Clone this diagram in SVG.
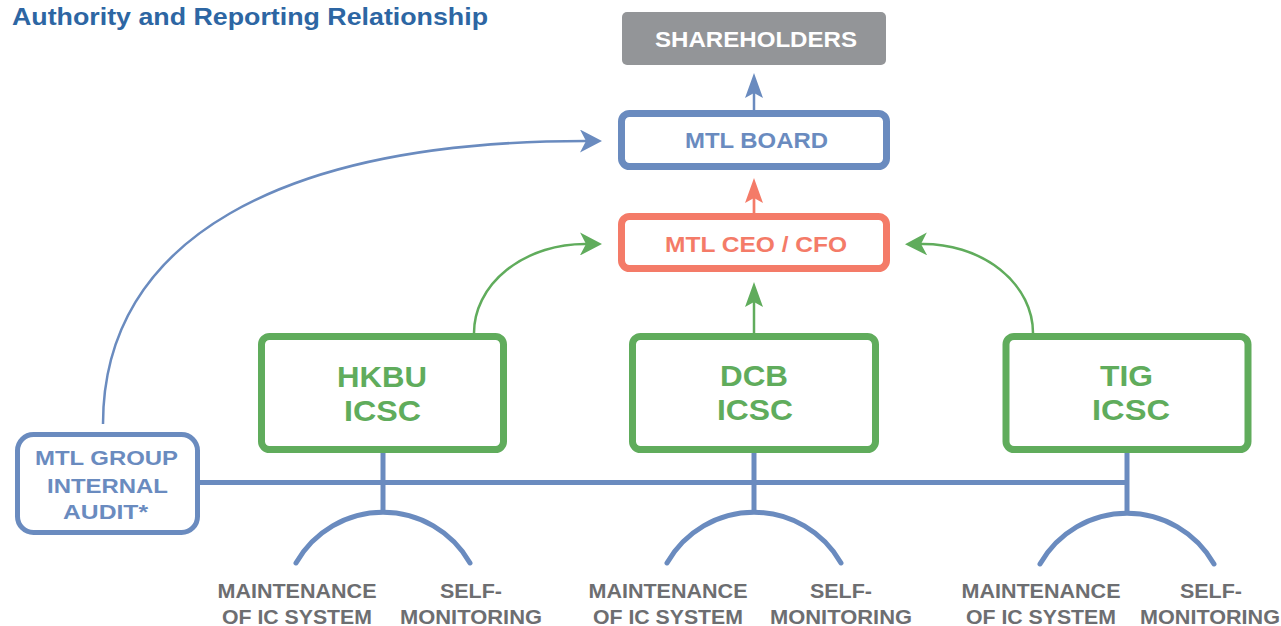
<svg xmlns="http://www.w3.org/2000/svg" width="1281" height="626" viewBox="0 0 1281 626">
<style>
text{font-family:"Liberation Sans",Arial,sans-serif;font-weight:bold;text-anchor:middle}
.title{fill:#2d66a3;font-size:24.5px;text-anchor:start}
.blue{fill:#6a8bbf}
.green{fill:#60ac5c}
.salmon{fill:#f47b68}
.lbl{fill:#6d6e71;font-size:19.5px}
.bx{fill:#fff}
.bb{stroke:#6a8bbf;stroke-width:7}
.gb{stroke:#60ac5c;stroke-width:7}
.sb{stroke:#f47b68;stroke-width:7}
.ln{fill:none;stroke:#6a8bbf;stroke-width:5;stroke-linecap:butt}
.arc{fill:none;stroke:#6a8bbf;stroke-width:5;stroke-linecap:round}
.cb{fill:none;stroke:#6a8bbf;stroke-width:2.5}
.cg{fill:none;stroke:#60ac5c;stroke-width:2.5}
.cs{fill:none;stroke:#f47b68;stroke-width:2.7}
</style>
<defs>
<marker id="sBlue" markerUnits="userSpaceOnUse" viewBox="0 0 25 18" markerWidth="25" markerHeight="18" refX="5" refY="9" orient="auto"><path d="M0,0 L25,9 L0,18 L5,9 z" fill="#6a8bbf"/></marker>
<marker id="sSalmon" markerUnits="userSpaceOnUse" viewBox="0 0 25 18" markerWidth="25" markerHeight="18" refX="5" refY="9" orient="auto"><path d="M0,0 L25,9 L0,18 L5,9 z" fill="#f47b68"/></marker>
<marker id="sGreen" markerUnits="userSpaceOnUse" viewBox="0 0 25 18" markerWidth="25" markerHeight="18" refX="5" refY="9" orient="auto"><path d="M0,0 L25,9 L0,18 L5,9 z" fill="#60ac5c"/></marker>
<marker id="cBlue" markerUnits="userSpaceOnUse" viewBox="0 0 22 23" markerWidth="22" markerHeight="23" refX="6" refY="11.5" orient="auto"><path d="M0,0 L22,11.5 L0,23 L6,11.5 z" fill="#6a8bbf"/></marker>
<marker id="cGreen" markerUnits="userSpaceOnUse" viewBox="0 0 22 23" markerWidth="22" markerHeight="23" refX="6" refY="11.5" orient="auto"><path d="M0,0 L22,11.5 L0,23 L6,11.5 z" fill="#60ac5c"/></marker>
</defs>

<text class="title" x="12" y="25" textLength="476" lengthAdjust="spacingAndGlyphs">Authority and Reporting Relationship</text>

<g id="connectors">
<path class="cb" d="M754,110 L754,93" marker-end="url(#sBlue)"/>
<path class="cs" d="M754,213 L754,198" marker-end="url(#sSalmon)"/>
<path class="cg" d="M754,333 L754,302" marker-end="url(#sGreen)"/>
<path class="cb" d="M103,424 C103,240 280,141 586,141" marker-end="url(#cBlue)"/>
<path class="cg" d="M474,333 A111 89 0 0 1 586,244" marker-end="url(#cGreen)"/>
<path class="cg" d="M1033,333 A110 89 0 0 0 921,244" marker-end="url(#cGreen)"/>
<path class="ln" d="M200,482.5 L1127,482.5"/>
<path class="ln" d="M383,453 L383,513"/>
<path class="ln" d="M754,453 L754,513"/>
<path class="ln" d="M1127,453 L1127,513"/>
<path class="arc" d="M296,563 A100 100 0 0 1 470,563"/>
<path class="arc" d="M667,563 A100 100 0 0 1 841,563"/>
<path class="arc" d="M1040,564 A100 100 0 0 1 1214,564"/>
</g>

<g id="shareholders">
<rect x="622" y="12" width="264" height="53" rx="5" fill="#939598"/>
<text x="756" y="47" font-size="22" fill="#fff" textLength="202" lengthAdjust="spacingAndGlyphs">SHAREHOLDERS</text>
</g>

<g id="board">
<rect class="bx bb" x="621.5" y="113.5" width="265" height="53" rx="8"/>
<text class="blue" x="756.5" y="148" font-size="22" textLength="143" lengthAdjust="spacingAndGlyphs">MTL BOARD</text>
</g>

<g id="ceo">
<rect class="bx sb" x="621.5" y="216.5" width="265" height="52" rx="8"/>
<text class="salmon" x="756" y="252" font-size="22" textLength="182" lengthAdjust="spacingAndGlyphs">MTL CEO / CFO</text>
</g>

<g id="hkbu">
<rect class="bx gb" x="261.5" y="336.5" width="242" height="113" rx="8"/>
<text class="green" x="382" y="387" font-size="30" textLength="90" lengthAdjust="spacingAndGlyphs">HKBU</text>
<text class="green" x="382.5" y="421" font-size="30" textLength="77" lengthAdjust="spacingAndGlyphs">ICSC</text>
</g>

<g id="dcb">
<rect class="bx gb" x="632.5" y="336.5" width="243" height="113" rx="8"/>
<text class="green" x="754" y="386" font-size="30" textLength="68" lengthAdjust="spacingAndGlyphs">DCB</text>
<text class="green" x="755" y="420" font-size="30" textLength="76" lengthAdjust="spacingAndGlyphs">ICSC</text>
</g>

<g id="tig">
<rect class="bx gb" x="1006" y="336.5" width="242" height="113" rx="8"/>
<text class="green" x="1126.5" y="386" font-size="30" textLength="53" lengthAdjust="spacingAndGlyphs">TIG</text>
<text class="green" x="1131" y="420" font-size="30" textLength="78" lengthAdjust="spacingAndGlyphs">ICSC</text>
</g>

<g id="audit">
<rect class="bx" x="17.5" y="434.5" width="180" height="98" rx="16" stroke="#6a8bbf" stroke-width="5"/>
<text class="blue" x="106.5" y="465" font-size="21" textLength="143" lengthAdjust="spacingAndGlyphs">MTL GROUP</text>
<text class="blue" x="107.5" y="493" font-size="21" textLength="121" lengthAdjust="spacingAndGlyphs">INTERNAL</text>
<text class="blue" x="105.5" y="519" font-size="21" textLength="85" lengthAdjust="spacingAndGlyphs">AUDIT*</text>
</g>

<g id="hkbu-labels">
<text class="lbl" x="297" y="598" textLength="159" lengthAdjust="spacingAndGlyphs">MAINTENANCE</text>
<text class="lbl" x="297" y="624" textLength="150" lengthAdjust="spacingAndGlyphs">OF IC SYSTEM</text>
<text class="lbl" x="471" y="598" textLength="62" lengthAdjust="spacingAndGlyphs">SELF-</text>
<text class="lbl" x="471" y="624" textLength="142" lengthAdjust="spacingAndGlyphs">MONITORING</text>
</g>

<g id="dcb-labels">
<text class="lbl" x="668" y="598" textLength="159" lengthAdjust="spacingAndGlyphs">MAINTENANCE</text>
<text class="lbl" x="668" y="624" textLength="150" lengthAdjust="spacingAndGlyphs">OF IC SYSTEM</text>
<text class="lbl" x="841" y="598" textLength="62" lengthAdjust="spacingAndGlyphs">SELF-</text>
<text class="lbl" x="841" y="624" textLength="142" lengthAdjust="spacingAndGlyphs">MONITORING</text>
</g>

<g id="tig-labels">
<text class="lbl" x="1041" y="598" textLength="159" lengthAdjust="spacingAndGlyphs">MAINTENANCE</text>
<text class="lbl" x="1041" y="624" textLength="150" lengthAdjust="spacingAndGlyphs">OF IC SYSTEM</text>
<text class="lbl" x="1211" y="598" textLength="62" lengthAdjust="spacingAndGlyphs">SELF-</text>
<text class="lbl" x="1210" y="624" textLength="140" lengthAdjust="spacingAndGlyphs">MONITORING</text>
</g>
</svg>
